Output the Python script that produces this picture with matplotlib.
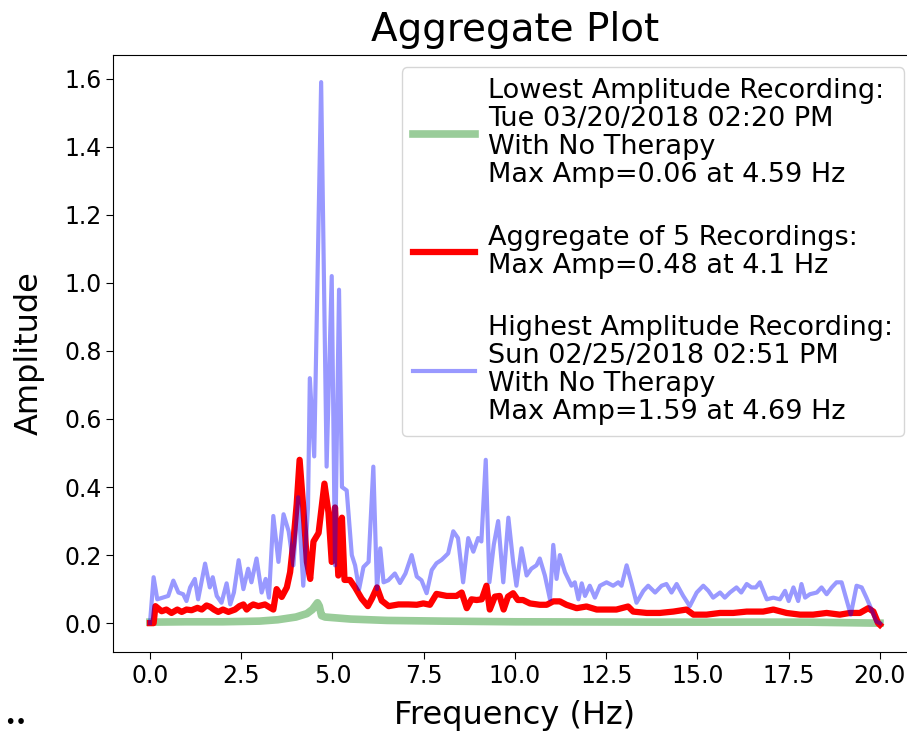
import matplotlib
matplotlib.use('Agg')
import matplotlib.pyplot as plt

# lowest amplitude recording (green)
low_freq = [0.0, 1.0, 2.0, 3.0, 3.5, 4.0, 4.3, 4.45, 4.59, 4.64, 4.7, 4.8, 5.5, 6.5, 8.0, 10.0, 14.0, 18.0, 20.0]
low_amp = [0.003, 0.004, 0.004, 0.006, 0.01, 0.018, 0.028, 0.04, 0.06, 0.05, 0.022, 0.018, 0.012, 0.008, 0.006, 0.004, 0.003, 0.003, 0.0]

# aggregate of 5 recordings (red)
agg_freq = [0.0, 0.1, 0.15, 0.32, 0.45, 0.59, 0.75, 0.87, 1.0, 1.14, 1.3, 1.42, 1.55, 1.65, 1.75, 1.87,
            2.0, 2.15, 2.33, 2.45, 2.56, 2.65, 2.75, 2.83, 2.97, 3.15, 3.3, 3.38, 3.47, 3.61, 3.75, 3.84,
            3.93, 4.02, 4.1, 4.2, 4.3, 4.39, 4.48, 4.62, 4.78, 4.89, 4.98, 5.07, 5.16, 5.26, 5.33, 5.48,
            5.62, 5.8, 5.97, 6.08, 6.22, 6.35, 6.54, 6.81, 7.08, 7.31, 7.49, 7.67, 7.85, 8.13, 8.4, 8.54,
            8.68, 8.81, 8.95, 9.09, 9.22, 9.31, 9.45, 9.58, 9.69, 9.81, 9.95, 10.08, 10.22, 10.41, 10.68,
            10.87, 11.05, 11.23, 11.41, 11.69, 11.96, 12.24, 12.51, 12.78, 13.1, 13.24, 13.61, 13.97,
            14.34, 14.7, 14.89, 15.25, 15.62, 15.98, 16.35, 16.8, 17.08, 17.44, 17.81, 18.17, 18.54,
            18.9, 19.18, 19.45, 19.68, 19.82, 19.95, 20.0]
agg_amp = [0.0, 0.0, 0.05, 0.035, 0.04, 0.03, 0.04, 0.033, 0.04, 0.038, 0.045, 0.04, 0.052, 0.048, 0.04, 0.033,
           0.04, 0.033, 0.04, 0.05, 0.055, 0.04, 0.05, 0.055, 0.05, 0.055, 0.045, 0.04, 0.10, 0.077, 0.105, 0.15,
           0.24, 0.35, 0.48, 0.34, 0.18, 0.13, 0.24, 0.265, 0.41, 0.326, 0.18, 0.34, 0.14, 0.31, 0.127, 0.127,
           0.105, 0.072, 0.05, 0.072, 0.105, 0.066, 0.05, 0.055, 0.055, 0.054, 0.058, 0.054, 0.086, 0.08, 0.08, 0.09,
           0.044, 0.07, 0.068, 0.07, 0.11, 0.04, 0.078, 0.08, 0.04, 0.078, 0.088, 0.068, 0.068, 0.058, 0.054,
           0.054, 0.064, 0.064, 0.054, 0.044, 0.049, 0.04, 0.04, 0.04, 0.049, 0.034, 0.03, 0.03,
           0.034, 0.04, 0.025, 0.025, 0.03, 0.03, 0.034, 0.034, 0.04, 0.03, 0.025, 0.025, 0.03,
           0.025, 0.03, 0.03, 0.044, 0.034, 0.0, -0.005]

# highest amplitude recording (blue)
high_freq = [0.0, 0.1, 0.2, 0.35, 0.5, 0.64, 0.78, 0.91, 1.0, 1.1, 1.23, 1.32, 1.51, 1.64, 1.72, 1.83, 1.96,
             2.1, 2.2, 2.3, 2.43, 2.56, 2.69, 2.78, 2.92, 3.06, 3.17, 3.26, 3.38, 3.52, 3.66, 3.8, 3.93, 4.06,
             4.2, 4.33, 4.38, 4.5, 4.69, 4.84, 4.98, 5.07, 5.18, 5.26, 5.39, 5.53, 5.62, 5.73, 5.85, 5.99,
             6.12, 6.22, 6.31, 6.4, 6.53, 6.71, 6.85, 7.0, 7.17, 7.31, 7.44, 7.58, 7.72, 7.85, 7.99, 8.17,
             8.31, 8.44, 8.58, 8.72, 8.86, 8.99, 9.08, 9.2, 9.3, 9.42, 9.54, 9.68, 9.82, 9.95, 10.04, 10.18,
             10.32, 10.45, 10.59, 10.68, 10.82, 10.96, 11.05, 11.14, 11.23, 11.37, 11.55, 11.64, 11.74,
             11.83, 11.92, 12.05, 12.19, 12.33, 12.51, 12.69, 12.83, 12.92, 13.06, 13.2, 13.33, 13.52,
             13.65, 13.84, 14.02, 14.15, 14.29, 14.43, 14.61, 14.79, 14.98, 15.16, 15.3, 15.43, 15.62,
             15.75, 15.89, 16.07, 16.2, 16.35, 16.48, 16.6, 16.71, 16.9, 17.08, 17.26, 17.4, 17.5, 17.63,
             17.76, 17.85, 17.95, 18.08, 18.27, 18.4, 18.54, 18.68, 18.81, 18.95, 19.2, 19.36, 19.5,
             19.63, 19.77, 19.9, 20.0]
high_amp = [0.0, 0.135, 0.07, 0.075, 0.08, 0.125, 0.09, 0.085, 0.065, 0.105, 0.13, 0.07, 0.175, 0.105, 0.135, 0.08, 0.06,
            0.117, 0.055, 0.09, 0.185, 0.10, 0.16, 0.12, 0.19, 0.09, 0.13, 0.075, 0.315, 0.18, 0.32, 0.27, 0.17, 0.37,
            0.11, 0.34, 0.72, 0.49, 1.59, 0.46, 1.02, 0.17, 0.98, 0.40, 0.39, 0.20, 0.17, 0.10, 0.165, 0.18,
            0.46, 0.10, 0.22, 0.12, 0.126, 0.146, 0.118, 0.146, 0.20, 0.137, 0.126, 0.088, 0.156, 0.176, 0.186, 0.205,
            0.27, 0.25, 0.12, 0.25, 0.21, 0.25, 0.24, 0.48, 0.12, 0.23, 0.30, 0.12, 0.31, 0.18, 0.11, 0.22,
            0.14, 0.16, 0.17, 0.19, 0.14, 0.07, 0.23, 0.13, 0.20, 0.15, 0.11, 0.12, 0.07,
            0.117, 0.08, 0.11, 0.075, 0.11, 0.12, 0.11, 0.12, 0.11, 0.17, 0.115, 0.06, 0.095,
            0.11, 0.09, 0.11, 0.115, 0.09, 0.115, 0.08, 0.05, 0.09, 0.11, 0.095, 0.075, 0.09,
            0.075, 0.09, 0.105, 0.09, 0.115, 0.105, 0.105, 0.12, 0.07, 0.075, 0.07, 0.095, 0.065, 0.105,
            0.065, 0.115, 0.075, 0.085, 0.09, 0.105, 0.085, 0.105, 0.12, 0.12, 0.025, 0.11, 0.105,
            0.075, 0.04, 0.005, 0.0]

low_label = ("Lowest Amplitude Recording:\nTue 03/20/2018 02:20 PM\n"
             "With No Therapy\nMax Amp=0.06 at 4.59 Hz")
agg_label = "Aggregate of 5 Recordings:\nMax Amp=0.48 at 4.1 Hz"
high_label = ("Highest Amplitude Recording:\nSun 02/25/2018 02:51 PM\n"
              "With No Therapy\nMax Amp=1.59 at 4.69 Hz")


def main():
    fig = plt.figure(figsize=(9.07, 7.32), dpi=100)
    ax = fig.add_axes([0.1251, 0.1093, 0.8853, 0.8156])

    ax.plot(low_freq, low_amp, color='g', alpha=0.4, linewidth=5.5, label=low_label)
    ax.plot(agg_freq, agg_amp, color='r', linewidth=4.5, label=agg_label)
    ax.plot(high_freq, high_amp, color='b', alpha=0.4, linewidth=3, label=high_label)

    ax.set_xlim(-1, 21)
    ax.set_xticks([0, 2.5, 5, 7.5, 10, 12.5, 15, 17.5, 20])
    ax.set_yticks([0.0, 0.2, 0.4, 0.6, 0.8, 1.0, 1.2, 1.4, 1.6])
    ax.tick_params(labelsize=17, length=5)
    ax.spines['right'].set_visible(False)
    ax.set_xlabel('Frequency (Hz)', fontsize=23, labelpad=9)
    ax.set_ylabel('Amplitude', fontsize=23, labelpad=14)
    ax.set_title('Aggregate Plot', fontsize=28, pad=10)

    leg = ax.legend(loc='upper right', fontsize=19.5, labelspacing=1.35,
                    handlelength=2.3, handletextpad=0.5, borderaxespad=0.45)
    for t in leg.get_texts():
        t.set_linespacing(1.1)

    fig.text(0.004, 0.005, '••', fontsize=14)

    fig.savefig('out.png', dpi=100)


if __name__ == "__main__":
    main()
